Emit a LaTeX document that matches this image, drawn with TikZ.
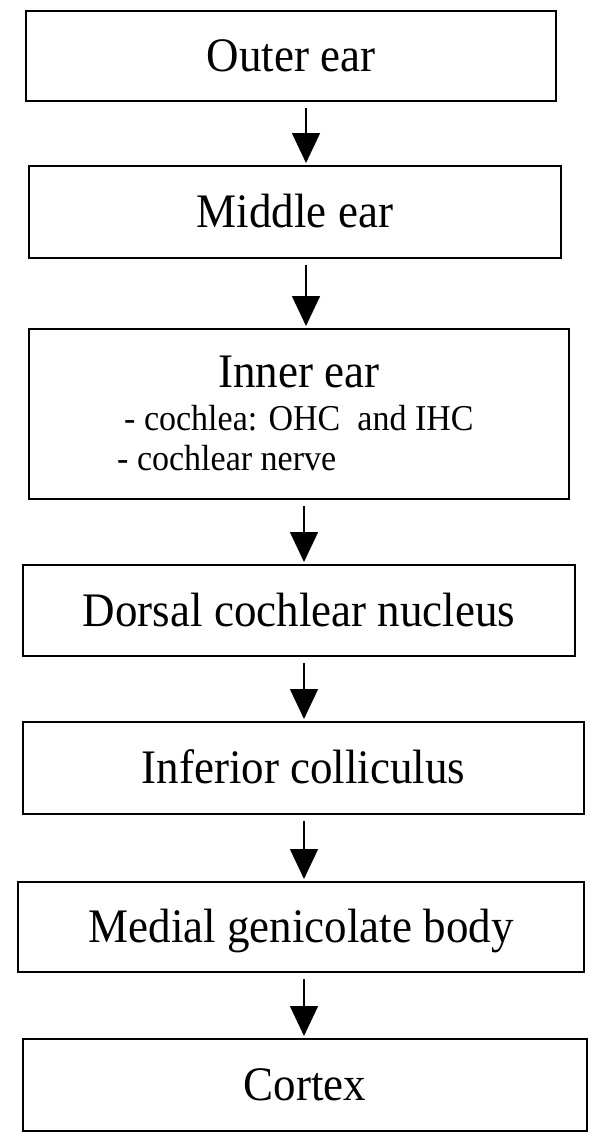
\documentclass[tikz,border=0pt]{standalone}
\usepackage{fontspec}
\setmainfont{Liberation Serif}
\usetikzlibrary{arrows.meta}
\newcommand{\tallertext}[1]{\scalebox{1}[1.07]{#1}}
\begin{document}
\begin{tikzpicture}[x=1pt,y=-1pt,
  boxnode/.style={draw=black,line width=2pt,rectangle,inner sep=0pt,
    text height=31.9pt,text depth=0pt,font=\fontsize{45}{54}\selectfont},
  arr/.style={line width=1.6pt,-{Triangle[width=28pt,length=30pt]},shorten <=6pt,shorten >=2pt},
  big/.style={inner sep=0pt,font=\fontsize{45}{54}\selectfont},
  small/.style={inner sep=0pt,font=\fontsize{34}{40}\selectfont}]
\useasboundingbox[fill=white] (0,0) rectangle (600,1138);
\node[boxnode,minimum width=530pt,minimum height=90pt] (b1) at (291,56) {\tallertext{Outer ear}};
\node[boxnode,minimum width=532pt,minimum height=92pt] (b2) at (295,212) {\tallertext{Middle ear}};
\node[boxnode,minimum width=540pt,minimum height=170pt] (b3) at (299,414) {};
\node[big,anchor=base] (t3) at (299,387) {\tallertext{Inner ear}};
\node[small,anchor=base west] (t3a) at (124,430) {\tallertext{- cochlea: OHC\ \ and IHC}};
\node[small,anchor=base west] (t3b) at (117,470) {\tallertext{- cochlear nerve}};
\node[boxnode,minimum width=552pt,minimum height=91pt] (b4) at (299,610.5) {\tallertext{Dorsal cochlear nucleus}};
\node[boxnode,minimum width=561pt,minimum height=92pt] (b5) at (303.5,768) {\tallertext{Inferior colliculus}};
\node[boxnode,minimum width=566pt,minimum height=90pt] (b6) at (301,927) {\tallertext{Medial genicolate body}};
\node[boxnode,minimum width=564pt,minimum height=92pt] (b7) at (305,1085) {\tallertext{Cortex}};
\coordinate (s1) at (306,0);
\coordinate (s2) at (304,0);
\draw[arr] (b1.south -| s1) -- (b2.north -| s1);
\draw[arr] (b2.south -| s1) -- (b3.north -| s1);
\draw[arr] (b3.south -| s2) -- (b4.north -| s2);
\draw[arr] (b4.south -| s2) -- (b5.north -| s2);
\draw[arr] (b5.south -| s2) -- (b6.north -| s2);
\draw[arr] (b6.south -| s2) -- (b7.north -| s2);
\end{tikzpicture}
\end{document}
